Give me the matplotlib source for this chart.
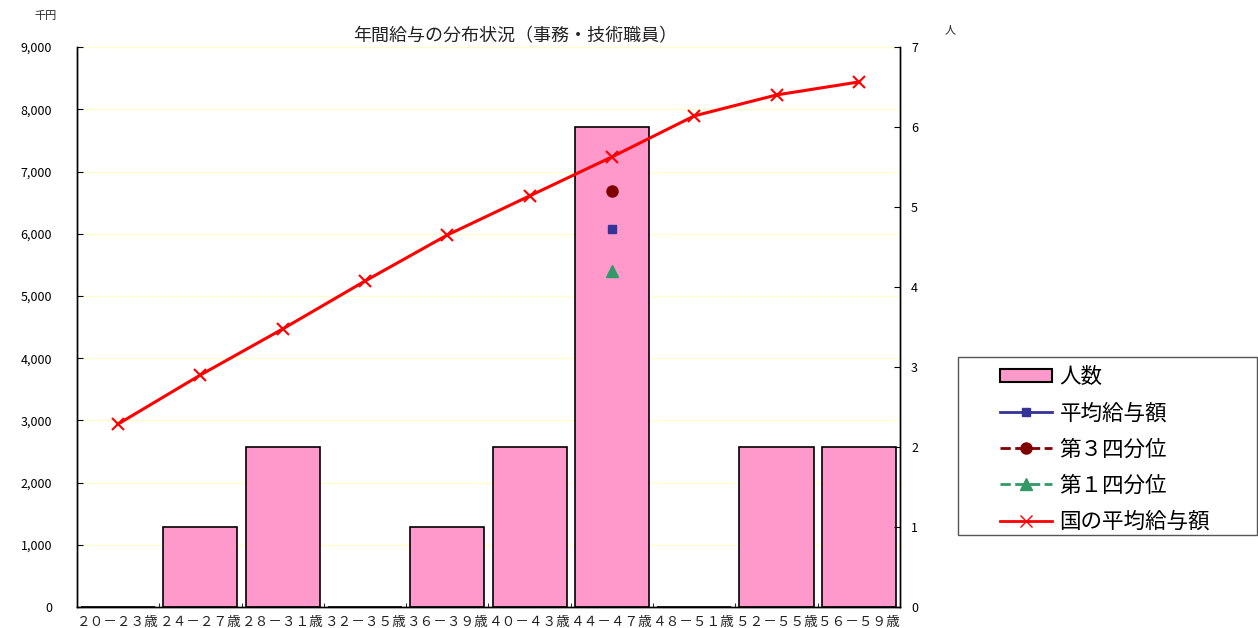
import numpy as np
import matplotlib
matplotlib.use("Agg")
import matplotlib.pyplot as plt
from matplotlib.patches import Patch, Rectangle
from matplotlib.lines import Line2D

plt.rcParams['font.family'] = ['Noto Sans CJK JP', 'DejaVu Sans']

categories = ["２０－２３歳", "２４－２７歳", "２８－３１歳", "３２－３５歳", "３６－３９歳",
              "４０－４３歳", "４４－４７歳", "４８－５１歳", "５２－５５歳", "５６－５９歳"]
headcount = [0, 1, 2, 0, 1, 2, 6, 0, 2, 2]
avg_salary = [np.nan, np.nan, np.nan, np.nan, np.nan, np.nan, 6077, np.nan, np.nan, np.nan]
q3_salary = [np.nan, np.nan, np.nan, np.nan, np.nan, np.nan, 6688, np.nan, np.nan, np.nan]
q1_salary = [np.nan, np.nan, np.nan, np.nan, np.nan, np.nan, 5402, np.nan, np.nan, np.nan]
national_avg = [2942, 3730, 4470, 5240, 5980, 6608, 7235, 7894, 8231, 8440]

W, H = 1258, 628
fig = plt.figure(figsize=(12.58, 6.28), dpi=100)
ax = fig.add_axes([0.0612, 0.0334, 0.6542, 0.8916])
ax2 = ax.twinx()

x = np.arange(len(categories))
bar_color = '#FF99CC'

# bars on right axis
ax2.bar(x, headcount, width=0.9, color=bar_color, edgecolor='black', linewidth=1.2, zorder=1)
ax2.set_ylim(0, 7)
ax2.set_yticks(range(0, 8))
ax2.set_yticklabels([str(v) for v in range(0, 8)])

# salary series on left axis, drawn above bars
ax.set_zorder(ax2.get_zorder() + 1)
ax.patch.set_visible(False)
ax.set_ylim(0, 9000)
ax.set_xlim(-0.5, len(categories) - 0.5)
ax.set_yticks(range(0, 9001, 1000))
ax.set_yticklabels([f"{v:,}" for v in range(0, 9001, 1000)])
for yv in range(1000, 9001, 1000):
    ax2.axhline(yv / 9000 * 7, color='#FFFFCC', linewidth=1, zorder=0)

ax.plot(x, national_avg, color='#FF0000', linewidth=2.2, marker='x', markersize=9,
        markeredgewidth=1.5, zorder=3)
ax.plot(x, avg_salary, color='#333399', marker='s', markersize=6, linestyle='-', zorder=4)
ax.plot(x, q3_salary, color='#800000', marker='o', markersize=8, linestyle='--', zorder=4)
ax.plot(x, q1_salary, color='#339966', marker='^', markersize=8, linestyle='--', zorder=4)

ax.set_xticks(x)
ax.set_xticklabels(categories, fontsize=9.8, color='#222222')
ax.set_xticks(np.arange(-0.5, len(categories), 1.0), minor=True)
ax.tick_params(axis='x', which='major', length=0, pad=6)
ax.tick_params(axis='x', which='minor', direction='in', length=3, color='black')
ax.tick_params(axis='y', direction='in', labelsize=9, color='black', pad=18, length=4)
ax2.tick_params(axis='y', direction='in', labelsize=9, pad=8, length=4)

for a in (ax, ax2):
    a.spines['top'].set_visible(False)
    for s in ('left', 'right', 'bottom'):
        a.spines[s].set_color('black')
        a.spines[s].set_linewidth(1.0)

fig.text(515 / W, 1 - 36 / H, "年間給与の分布状況（事務・技術職員）", ha='center', va='center',
         fontsize=13, color='#222222')
fig.text(0.036, 0.975, "千円", ha='center', va='center', fontsize=8, color='#222222')
fig.text(0.755, 0.952, "人", ha='center', va='center', fontsize=8, color='#222222')

# legend frame
fig.patches.append(Rectangle((958 / W, 1 - 535 / H), 299 / W, 178 / H,
                             transform=fig.transFigure, facecolor='white',
                             edgecolor='#555555', linewidth=1.0, zorder=5))

handles = [
    Patch(facecolor=bar_color, edgecolor='black', linewidth=1.5),
    Line2D([], [], color='#333399', marker='s', markersize=6, linestyle='-', linewidth=2),
    Line2D([], [], color='#800000', marker='o', markersize=8, linestyle='--', linewidth=2),
    Line2D([], [], color='#339966', marker='^', markersize=8, linestyle='--', linewidth=2),
    Line2D([], [], color='#FF0000', marker='x', markersize=9, linestyle='-', linewidth=2),
]
labels = ["人数", "平均給与額", "第３四分位", "第１四分位", "国の平均給与額"]
leg = fig.legend(handles, labels, loc='upper left', bbox_to_anchor=(1000 / W, 1 - 366 / H),
                 fontsize=15.5, frameon=False, handlelength=2.4, handleheight=0.6,
                 labelspacing=0.66, borderpad=0, handletextpad=0.37, borderaxespad=0)
leg.set_zorder(6)

fig.savefig("out.png", dpi=100, facecolor='white')
